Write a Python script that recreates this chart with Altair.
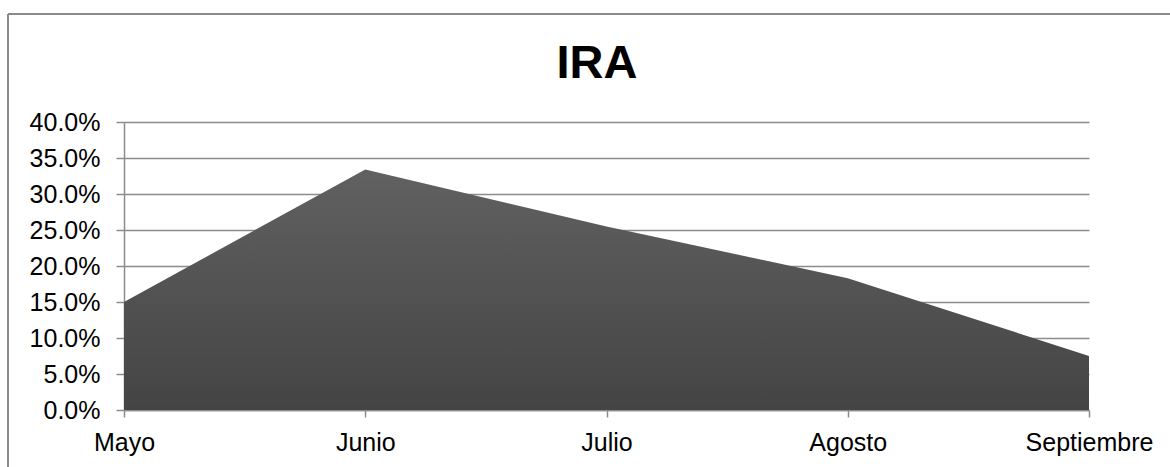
import altair as alt
import pandas as pd

# Monthly IRA rate
months = ["Mayo", "Junio", "Julio", "Agosto", "Septiembre"]
ira = [0.150, 0.334, 0.255, 0.183, 0.075]
title_text = ["IRA"]

df = pd.DataFrame({"mes": months, "ira": ira})
title_df = pd.DataFrame({"t": title_text})

FONT = "Liberation Sans"
GRID = "#8c8c8c"

x = alt.X(
    "mes:N",
    sort=months,
    scale=alt.Scale(type="point", padding=0),
    axis=alt.Axis(
        title=None, labelAngle=0, labelFontSize=25, labelFont=FONT, labelColor="#000000",
        labelPadding=13, tickSize=7, tickColor=GRID, domainColor=GRID, domainWidth=1.5,
        tickWidth=1.5, grid=False, labelOverlap=False,
    ),
)
y = alt.Y(
    "ira:Q",
    scale=alt.Scale(domain=[0, 0.4], nice=False),
    axis=alt.Axis(
        title=None, format=".1%", values=[i * 0.05 for i in range(9)], labelFontSize=25,
        labelFont=FONT, labelColor="#000000", labelPadding=16, tickSize=8, tickColor=GRID,
        tickWidth=1.5, domainColor=GRID, domainWidth=1.5, grid=True, gridColor=GRID,
        gridWidth=1.5,
    ),
)

area = alt.Chart(df).mark_area(
    interpolate="linear",
    color=alt.Gradient(
        gradient="linear",
        stops=[
            alt.GradientStop(color="#616161", offset=0),
            alt.GradientStop(color="#444444", offset=1),
        ],
        x1=0, x2=0, y1=0, y2=1,
    ),
).encode(x=x, y=y)

# Chart title, centred on the chart frame
title = alt.Chart(title_df).mark_text(
    font=FONT, fontSize=47, fontWeight="bold", color="#000000",
    align="center", baseline="alphabetic",
).encode(text="t:N", x=alt.value(473), y=alt.value(-44))

# Chart frame: top and left edges
frame_top = alt.Chart(df).mark_rule(color="#8a8a8a", strokeWidth=2).encode(
    x=alt.value(-116), x2=alt.value(1060), y=alt.value(-108)
)
frame_left = alt.Chart(df).mark_rule(color="#8a8a8a", strokeWidth=2).encode(
    x=alt.value(-116), y=alt.value(-108), y2=alt.value(360)
)

chart = (
    alt.layer(area, title, frame_top, frame_left)
    .properties(
        width=965,
        height=288,
        autosize=alt.AutoSizeParams(type="none"),
        padding={"left": 124, "top": 122, "right": 81, "bottom": 57},
        background="#ffffff",
    )
    .configure_view(stroke=None)
)

chart.save("out.html", embed_options={"renderer": "svg", "actions": False})
